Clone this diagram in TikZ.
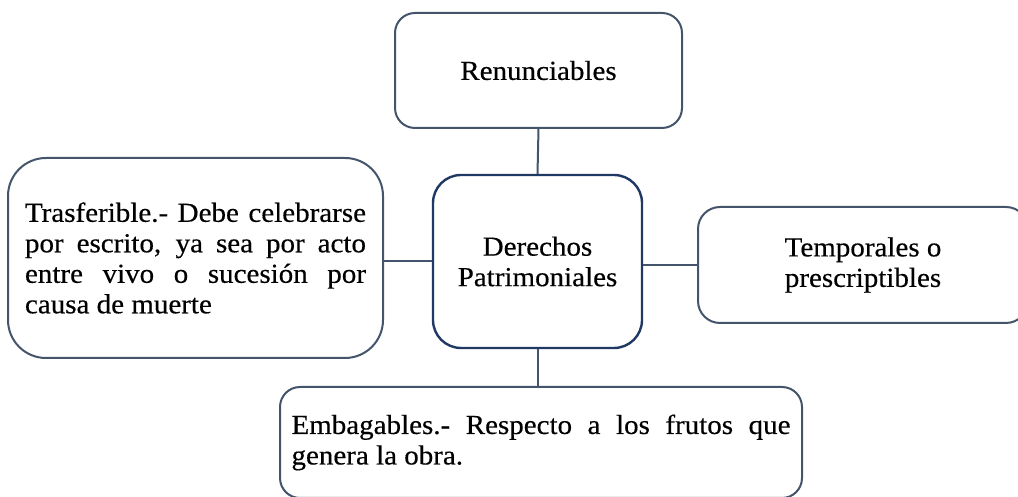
\documentclass[tikz,border=0pt]{standalone}
\usepackage{fontspec}
\setmainfont{Liberation Serif}[FakeStretch=1.055,FakeBold=0.4]
\definecolor{boxc}{HTML}{44546A}
\definecolor{navyc}{HTML}{203864}
\begin{document}
\begin{tikzpicture}[x=1pt,y=1pt,
  box/.style={draw=boxc, line width=2pt, fill=white, inner sep=0pt,
    font=\fontsize{27.5}{30.5}\selectfont, text=black},
  link/.style={draw=boxc, line width=2pt}]
\useasboundingbox (0,0) rectangle (1018,497);
\clip (0,0) rectangle (1018,497);
\node[box, rounded corners=20pt, minimum width=287pt, minimum height=115pt] (top) at (538.5,426.5) {Renunciables};
\node[box, draw=navyc, line width=2.4pt, rounded corners=28pt, minimum width=209pt, minimum height=173pt, align=center] (center) at (537.5,235.5) {Derechos\\Patrimoniales};
\node[box, rounded corners=38pt, minimum width=375pt, minimum height=200pt, text width=341pt, align=justify] (left) at (195.5,239) {Trasferible.- Debe celebrarse\linebreak por escrito, ya sea por acto\linebreak entre vivo o sucesión por\linebreak causa de muerte};
\node[box, rounded corners=22pt, minimum width=330pt, minimum height=116pt, align=center] (right) at (863,232) {Temporales o\\prescriptibles};
\node[box, rounded corners=20pt, minimum width=522pt, minimum height=111pt, text width=499pt, align=justify] (bottom) at (541,54.5) {Embagables.- Respecto a los frutos que\linebreak genera la obra.};
\draw[link] (top.south) -- (center.north);
\draw[link] (center.west) -- (center.west -| left.east);
\draw[link] (right.west) -- (right.west -| center.east);
\draw[link] (center.south) -- (center.south |- bottom.north);
\end{tikzpicture}
\end{document}
